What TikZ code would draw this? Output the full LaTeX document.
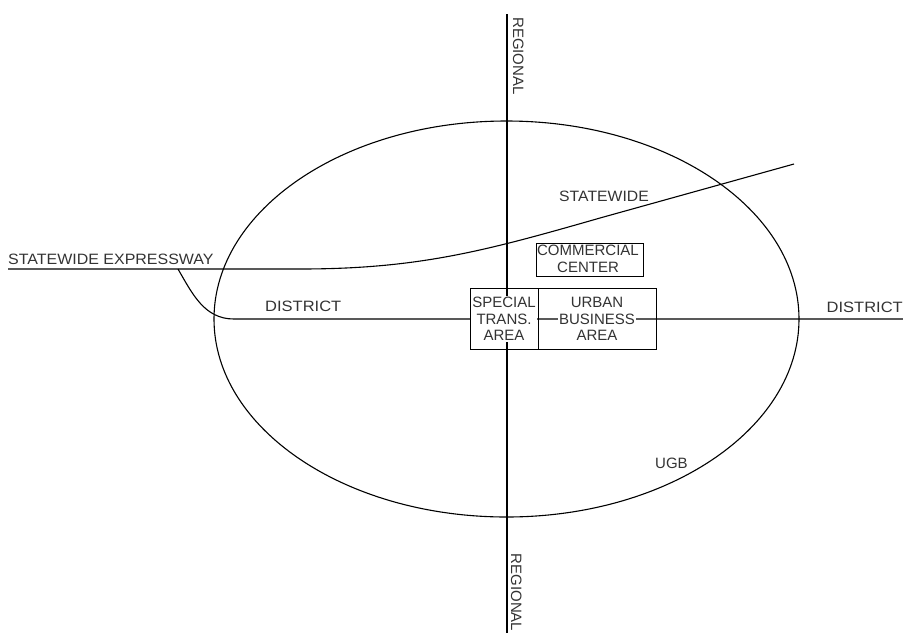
\documentclass[tikz,border=0pt]{standalone}
\usepackage{fontspec}
\setmainfont{Liberation Sans}
\begin{document}
\begin{tikzpicture}[x=1pt,y=-1pt,
  road/.style={line width=1.1pt, black},
  lbl/.style={inner sep=0pt, text=black!80, font=\fontsize{15}{16.5}\selectfont},
  boxtxt/.style={inner sep=1pt, fill=white, text=black!80, align=center,
                 font=\fontsize{15}{16.5}\selectfont},
  boxframe/.style={draw, line width=1.0pt, inner sep=0pt, minimum width=#1},
]
\useasboundingbox (0,0) rectangle (903,633);

% named points
\coordinate (regN) at (507,14);
\coordinate (regS) at (507,633);
\coordinate (expW) at (8,269);
\coordinate (fork) at (178,269);
\coordinate (expJ) at (300,269);
\coordinate (stMid) at (600,218);
\coordinate (stE) at (794,164);
\coordinate (distW) at (234,319);
\coordinate (distE) at (903,319);
\coordinate (ugbC) at (506.5,319);

% urban growth boundary
\draw[road] (ugbC) ellipse [x radius=292.5pt, y radius=198pt];

% regional road
\draw[road] (regN) -- (regS);

% statewide expressway
\draw[road] (expW) -- (expJ) to[out=0,in=196] (stMid) -- (stE);
\draw[road] (fork) to[out=-60,in=180] (distW) -- (distE);

% labels
\node[lbl, anchor=base west, xscale=1.065] (lExp) at (8,264.5) {STATEWIDE EXPRESSWAY};
\node[lbl, anchor=base west, xscale=1.1] (lDistW) at (265,311.5) {DISTRICT};
\node[lbl, anchor=base east, xscale=1.1] (lDistE) at (903,312) {DISTRICT};
\node[lbl, anchor=base west, xscale=1.05] (lState) at (559,201) {STATEWIDE};
\node[lbl, anchor=base west] (lUGB) at (655,468) {UGB};
\node[lbl, anchor=base west, rotate=-90] (lRegN) at (513,17) {REGIONAL};
\node[lbl, anchor=base west, rotate=-90] (lRegS) at (511,553.5) {REGIONAL};

% centre boxes
\node[boxtxt] (tSpec) at (504,319) {SPECIAL\\TRANS.\\AREA};
\node[boxtxt] (tUrb) at (597,319) {URBAN\\BUSINESS\\AREA};
\node[boxtxt] (tCom) at (588,259) {COMMERCIAL\\CENTER};

\node[boxframe=68pt, minimum height=61pt] (bSpec) at (504,318.5) {};
\node[boxframe=118pt, minimum height=61pt] (bUrb) at (597,318.5) {};
\node[boxframe=107pt, minimum height=33pt] (bCom) at (589.5,259.5) {};
\end{tikzpicture}
\end{document}
